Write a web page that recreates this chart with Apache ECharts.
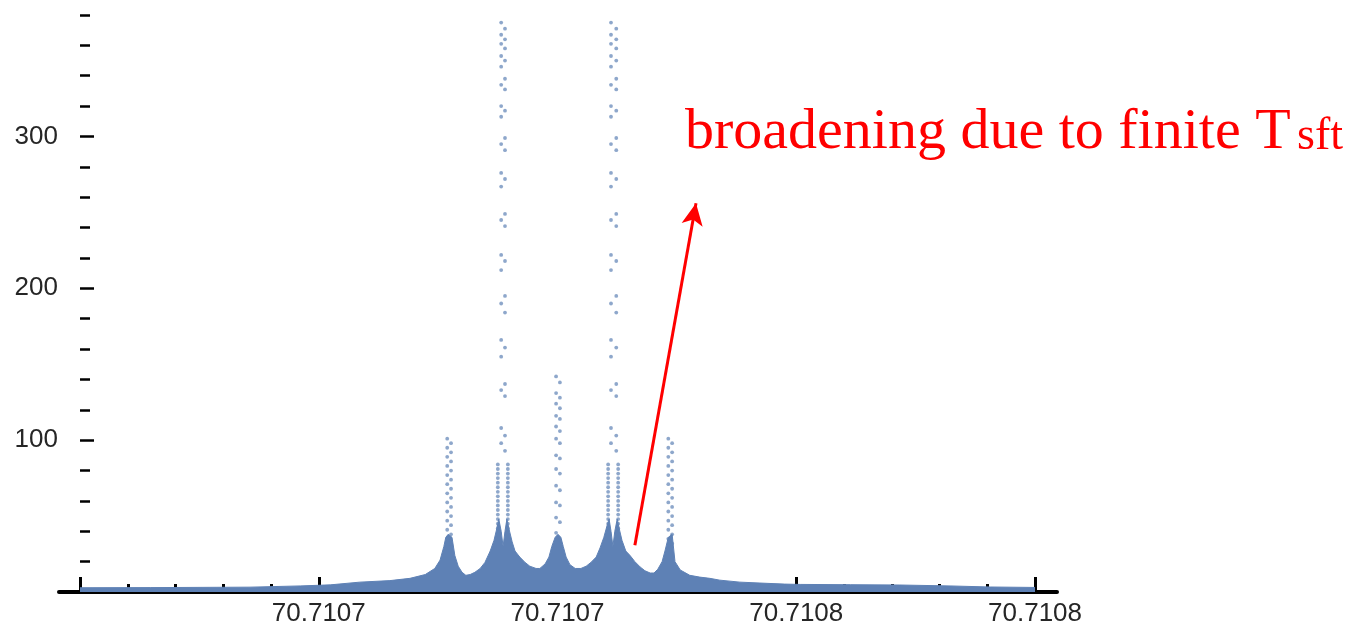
<!DOCTYPE html>
<html>
<head>
<meta charset="utf-8">
<script src="https://cdn.jsdelivr.net/npm/echarts@6/dist/echarts.min.js"></script>
<style>html,body{margin:0;padding:0;background:#fff;}#c{width:1355px;height:627px;}</style>
</head>
<body>
<div id="c"></div>
<script>
// ---- data (x in units of 1e-5 offset, major tick every 5 units) ----
const xTickValues = [0, 5, 10, 15, 20];
const xTickLabels = ['', '70.7107', '70.7107', '70.7108', '70.7108'];
const xMinorTicks = [1,2,3,4,6,7,8,9,11,12,13,14,16,17,18,19];
const yMajorTicks = [0, 100, 200, 300];
const yTickLabels = [100, 200, 300];
const yMinorTicks = [20,40,60,80,120,140,160,180,220,240,260,280,320,340,360,380];

// dense lower envelope of the point cloud
const envX = [0.00,1.47,3.56,4.61,5.24,5.86,6.49,6.91,7.23,7.43,7.54,7.62,7.66,7.71,7.79,7.85,7.92,8.00,8.08,8.17,8.27,8.38,8.48,8.59,8.67,8.73,8.77,8.82,8.86,8.90,8.94,8.98,9.05,9.11,9.21,9.32,9.42,9.55,9.63,9.74,9.82,9.88,9.95,10.01,10.07,10.12,10.18,10.26,10.37,10.49,10.60,10.70,10.81,10.89,10.97,11.04,11.08,11.12,11.16,11.20,11.25,11.29,11.35,11.43,11.52,11.62,11.73,11.83,11.94,12.02,12.10,12.19,12.25,12.32,12.40,12.46,12.57,12.77,12.98,13.19,13.40,13.82,14.24,14.76,15.08,16.13,17.17,18.22,19.06,20.00];
const envY = [2.8,2.9,3.2,4.0,4.7,6.5,7.5,9,11.5,15.5,21,30,36,38,36,24,17,13,11,11.5,13,15.5,19.5,27,34,42,48,40,30,40,48,42,33,27,23,19.5,17,15.5,15.5,18.5,23,30,36,38,36,30,23,18,15.5,15.5,17,19.5,23,29,36,44,48,40,30,40,48,42,34,27,24,20,16.5,14,12.5,12.5,15,20,27,36,38,20,14.5,11,9.8,9,7.8,6.5,5.9,5.2,5.0,4.8,4.6,4.0,3.3,3.0];

// dotted columns above the envelope
const tallColX = [[8.82, 8.90], [11.12, 11.23]];
const tallColY = [375,371,367,364,361,358,353,350,346,338,334,331,320,317,313,299,295,291,276,272,267,249,245,241,222,218,212,195,190,184,166,161,155,137,133,129,108,103,98,93];
const clusterX = [[8.75, 8.96], [11.06, 11.27]];
const clusterY = [84,81,78,75,72,69,66,63,60,57,54,51,48,45,42];
const sideColX = [[7.69, 7.77], [12.32, 12.40]];
const sideColY = [101,98,95,92,89,86,83,80,77,74,71,68,65,62,59,56,53,50,47,44,41,38,35,32];
const midColX = [9.97, 10.05];
const midColY = [142,138,131,128,124,121,116,114,109,106,101,98,90,88,81,78,70,67,59,57,49,46,39,34];

const arrowFrom = [11.62, 30.8];
const arrowTo = [12.90, 256];

// ---- build ----
const blue = '#5E81B5';
const envData = envX.map((x, i) => [x, envY[i]]);
const pts = [];
tallColX.forEach(xs => tallColY.forEach((v, i) => pts.push([xs[i % 2], v])));
clusterX.forEach(xs => clusterY.forEach(v => { pts.push([xs[0], v]); pts.push([xs[1], v]); }));
sideColX.forEach(xs => sideColY.forEach((v, i) => pts.push([xs[i % 2], v])));
midColY.forEach((v, i) => pts.push([midColX[i % 2], v]));

const labelFont = {fontFamily: 'Liberation Sans', fontSize: 26, color: '#262626'};
const chart = echarts.init(document.getElementById('c'), null, {renderer: 'canvas'});
chart.setOption({
  animation: false,
  grid: {left: 59, right: 298, top: 15, bottom: 30},
  xAxis: [
    {type: 'value', min: -0.44, max: 20.46,
     axisLine: {show: true, lineStyle: {color: '#000', width: 4}},
     axisTick: {show: true, inside: true, length: 15, lineStyle: {color: '#000', width: 3}, customValues: xTickValues},
     axisLabel: Object.assign({show: true, margin: 9, customValues: xTickValues.slice(1),
       formatter: v => { const i = xTickValues.indexOf(v); return i >= 0 ? xTickLabels[i] : ''; }}, labelFont),
     splitLine: {show: false}},
    {type: 'value', min: -0.44, max: 20.46, position: 'bottom',
     axisLine: {show: false},
     axisTick: {show: true, inside: true, length: 8, lineStyle: {color: '#000', width: 3}, customValues: xMinorTicks},
     axisLabel: {show: false}, splitLine: {show: false}}
  ],
  yAxis: [
    {type: 'value', min: 0, max: 380, position: 'left', offset: -6,
     axisLine: {show: false},
     axisTick: {show: true, inside: true, length: 14, lineStyle: {color: '#000', width: 2.5}, customValues: yMajorTicks},
     axisLabel: Object.assign({show: true, margin: 7, customValues: yTickLabels}, labelFont),
     splitLine: {show: false}},
    {type: 'value', min: 0, max: 380, position: 'left', offset: -6,
     axisLine: {show: false},
     axisTick: {show: true, inside: true, length: 10, lineStyle: {color: '#000', width: 2.5}, customValues: yMinorTicks},
     axisLabel: {show: false}, splitLine: {show: false}}
  ],
  series: [
    {type: 'line', xAxisIndex: 0, yAxisIndex: 0, data: envData, showSymbol: false, symbol: 'none',
     lineStyle: {color: blue, width: 1}, areaStyle: {color: blue, opacity: 1}, z: 2,
     markLine: {silent: true, symbol: ['none', 'arrow'], symbolSize: [16, 22],
       label: {show: false}, lineStyle: {color: '#ff0000', width: 3, type: 'solid'},
       data: [[{coord: arrowFrom}, {coord: arrowTo}]]}},
    {type: 'scatter', xAxisIndex: 0, yAxisIndex: 0, data: pts, symbolSize: 3.8,
     itemStyle: {color: blue, opacity: 0.7}, z: 3}
  ],
  graphic: [
    {type: 'text', x: 685, y: 133, style: {text: 'broadening due to finite T', fontFamily: 'Liberation Serif', fontSize: 58, fill: '#ff0000', verticalAlign: 'middle'}},
    {type: 'text', x: 1297, y: 137, style: {text: 'sft', fontFamily: 'Liberation Serif', fontSize: 46, fill: '#ff0000', verticalAlign: 'middle'}}
  ]
});
</script>
</body>
</html>
